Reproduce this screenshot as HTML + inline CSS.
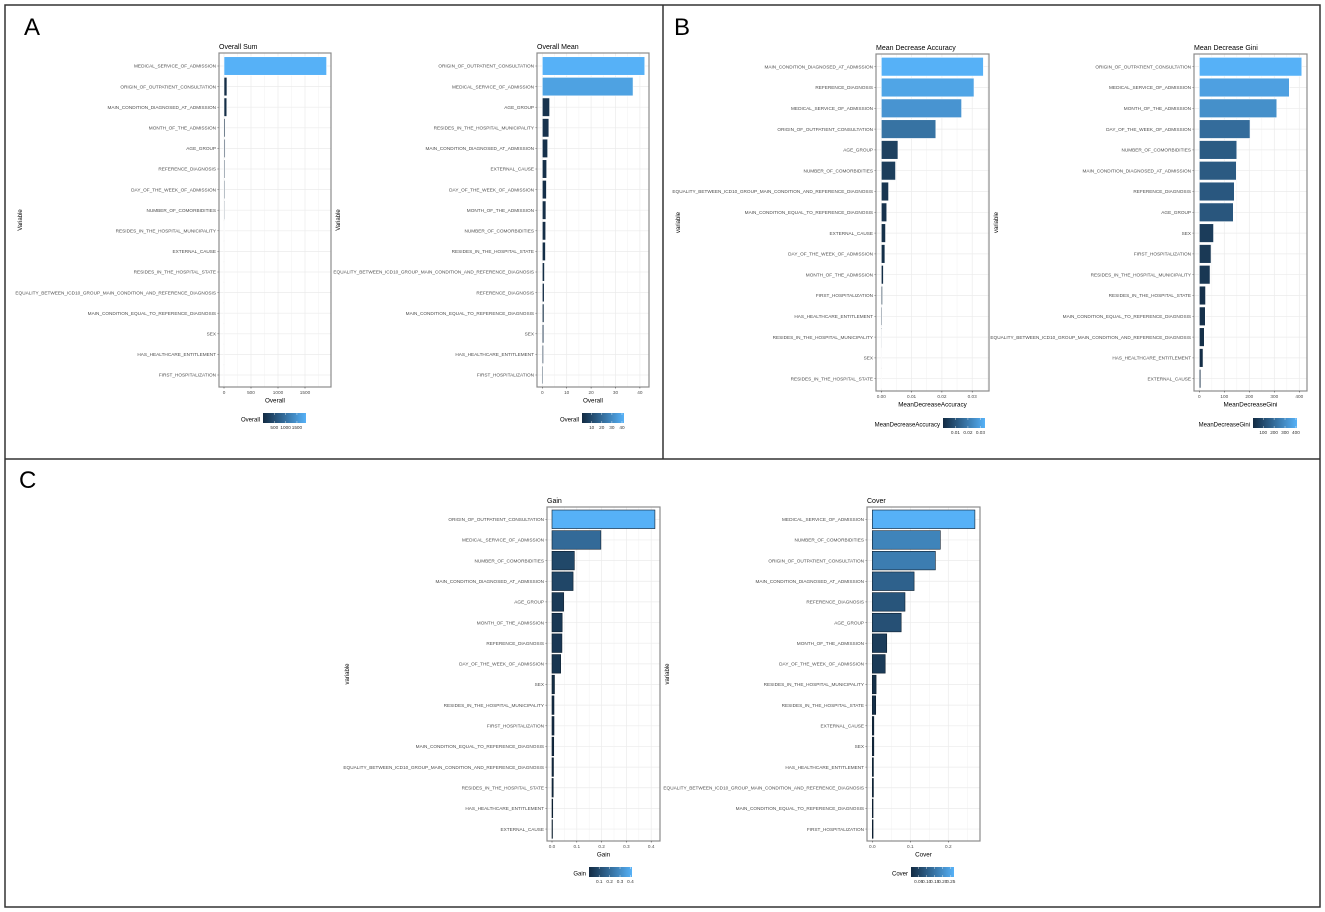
<!DOCTYPE html>
<html><head><meta charset="utf-8">
<style>
html,body{margin:0;padding:0;background:#fff;}
svg{display:block;font-family:"Liberation Sans",sans-serif;}
</style></head>
<body>
<svg id="fig" width="1325" height="912" viewBox="0 0 1325 912" xmlns="http://www.w3.org/2000/svg">
<rect x="0" y="0" width="1325" height="912" fill="#fff"/>
<rect x="5" y="5" width="1315" height="902" fill="none" stroke="#333" stroke-width="1.5"/>
<line x1="663" y1="5" x2="663" y2="459" stroke="#333" stroke-width="1.5"/>
<line x1="5" y1="459" x2="1320" y2="459" stroke="#333" stroke-width="1.5"/>
<text x="24" y="35" font-size="24" fill="#000">A</text>
<text x="674" y="35" font-size="24" fill="#000">B</text>
<text x="19" y="488" font-size="24" fill="#000">C</text>
</svg>
<script>
// ---- data ----
const sumCategories = ["MEDICAL_SERVICE_OF_ADMISSION","ORIGIN_OF_OUTPATIENT_CONSULTATION","MAIN_CONDITION_DIAGNOSED_AT_ADMISSION","MONTH_OF_THE_ADMISSION","AGE_GROUP","REFERENCE_DIAGNOSIS","DAY_OF_THE_WEEK_OF_ADMISSION","NUMBER_OF_COMORBIDITIES","RESIDES_IN_THE_HOSPITAL_MUNICIPALITY","EXTERNAL_CAUSE","RESIDES_IN_THE_HOSPITAL_STATE","EQUALITY_BETWEEN_ICD10_GROUP_MAIN_CONDITION_AND_REFERENCE_DIAGNOSIS","MAIN_CONDITION_EQUAL_TO_REFERENCE_DIAGNOSIS","SEX","HAS_HEALTHCARE_ENTITLEMENT","FIRST_HOSPITALIZATION"];
const sumValues = [1900,55,52,22,20,18,17,13,11,2,2,1.5,1.2,1,0.8,0.5];
const sumTicks = [0,500,1000,1500];
const sumTickLabels = ["0","500","1000","1500"];
const sumLegendTicks = [500,1000,1500];

const meanCategories = ["ORIGIN_OF_OUTPATIENT_CONSULTATION","MEDICAL_SERVICE_OF_ADMISSION","AGE_GROUP","RESIDES_IN_THE_HOSPITAL_MUNICIPALITY","MAIN_CONDITION_DIAGNOSED_AT_ADMISSION","EXTERNAL_CAUSE","DAY_OF_THE_WEEK_OF_ADMISSION","MONTH_OF_THE_ADMISSION","NUMBER_OF_COMORBIDITIES","RESIDES_IN_THE_HOSPITAL_STATE","EQUALITY_BETWEEN_ICD10_GROUP_MAIN_CONDITION_AND_REFERENCE_DIAGNOSIS","REFERENCE_DIAGNOSIS","MAIN_CONDITION_EQUAL_TO_REFERENCE_DIAGNOSIS","SEX","HAS_HEALTHCARE_ENTITLEMENT","FIRST_HOSPITALIZATION"];
const meanValues = [42,37.2,3,2.7,2.2,1.8,1.7,1.5,1.4,1.3,0.9,0.8,0.7,0.6,0.5,0.4];
const meanTicks = [0,10,20,30,40];
const meanTickLabels = ["0","10","20","30","40"];
const meanLegendTicks = [10,20,30,40];

const mdaCategories = ["MAIN_CONDITION_DIAGNOSED_AT_ADMISSION","REFERENCE_DIAGNOSIS","MEDICAL_SERVICE_OF_ADMISSION","ORIGIN_OF_OUTPATIENT_CONSULTATION","AGE_GROUP","NUMBER_OF_COMORBIDITIES","EQUALITY_BETWEEN_ICD10_GROUP_MAIN_CONDITION_AND_REFERENCE_DIAGNOSIS","MAIN_CONDITION_EQUAL_TO_REFERENCE_DIAGNOSIS","EXTERNAL_CAUSE","DAY_OF_THE_WEEK_OF_ADMISSION","MONTH_OF_THE_ADMISSION","FIRST_HOSPITALIZATION","HAS_HEALTHCARE_ENTITLEMENT","RESIDES_IN_THE_HOSPITAL_MUNICIPALITY","SEX","RESIDES_IN_THE_HOSPITAL_STATE"];
const mdaValues = [0.0337,0.0306,0.0265,0.018,0.0055,0.0047,0.0024,0.0018,0.0014,0.0012,0.0007,0.0004,0.0003,0.0002,0.0001,0.0];
const mdaTicks = [0,0.01,0.02,0.03];
const mdaTickLabels = ["0.00","0.01","0.02","0.03"];
const mdaLegendTicks = [0.01,0.02,0.03];
const mdaLegendLabels = ["0.01","0.02","0.03"];

const giniCategories = ["ORIGIN_OF_OUTPATIENT_CONSULTATION","MEDICAL_SERVICE_OF_ADMISSION","MONTH_OF_THE_ADMISSION","DAY_OF_THE_WEEK_OF_ADMISSION","NUMBER_OF_COMORBIDITIES","MAIN_CONDITION_DIAGNOSED_AT_ADMISSION","REFERENCE_DIAGNOSIS","AGE_GROUP","SEX","FIRST_HOSPITALIZATION","RESIDES_IN_THE_HOSPITAL_MUNICIPALITY","RESIDES_IN_THE_HOSPITAL_STATE","MAIN_CONDITION_EQUAL_TO_REFERENCE_DIAGNOSIS","EQUALITY_BETWEEN_ICD10_GROUP_MAIN_CONDITION_AND_REFERENCE_DIAGNOSIS","HAS_HEALTHCARE_ENTITLEMENT","EXTERNAL_CAUSE"];
const giniValues = [410,360,310,203,150,148,140,136,57,47,43,25,24,20,15,6];
const giniTicks = [0,100,200,300,400];
const giniTickLabels = ["0","100","200","300","400"];
const giniLegendTicks = [100,200,300,400];

const gainCategories = ["ORIGIN_OF_OUTPATIENT_CONSULTATION","MEDICAL_SERVICE_OF_ADMISSION","NUMBER_OF_COMORBIDITIES","MAIN_CONDITION_DIAGNOSED_AT_ADMISSION","AGE_GROUP","MONTH_OF_THE_ADMISSION","REFERENCE_DIAGNOSIS","DAY_OF_THE_WEEK_OF_ADMISSION","SEX","RESIDES_IN_THE_HOSPITAL_MUNICIPALITY","FIRST_HOSPITALIZATION","MAIN_CONDITION_EQUAL_TO_REFERENCE_DIAGNOSIS","EQUALITY_BETWEEN_ICD10_GROUP_MAIN_CONDITION_AND_REFERENCE_DIAGNOSIS","RESIDES_IN_THE_HOSPITAL_STATE","HAS_HEALTHCARE_ENTITLEMENT","EXTERNAL_CAUSE"];
const gainValues = [0.415,0.197,0.09,0.085,0.047,0.041,0.04,0.035,0.01,0.008,0.008,0.007,0.006,0.005,0.003,0.002];
const gainTicks = [0,0.1,0.2,0.3,0.4];
const gainTickLabels = ["0.0","0.1","0.2","0.3","0.4"];
const gainLegendTicks = [0.1,0.2,0.3,0.4];
const gainLegendLabels = ["0.1","0.2","0.3","0.4"];

const coverCategories = ["MEDICAL_SERVICE_OF_ADMISSION","NUMBER_OF_COMORBIDITIES","ORIGIN_OF_OUTPATIENT_CONSULTATION","MAIN_CONDITION_DIAGNOSED_AT_ADMISSION","REFERENCE_DIAGNOSIS","AGE_GROUP","MONTH_OF_THE_ADMISSION","DAY_OF_THE_WEEK_OF_ADMISSION","RESIDES_IN_THE_HOSPITAL_MUNICIPALITY","RESIDES_IN_THE_HOSPITAL_STATE","EXTERNAL_CAUSE","SEX","HAS_HEALTHCARE_ENTITLEMENT","EQUALITY_BETWEEN_ICD10_GROUP_MAIN_CONDITION_AND_REFERENCE_DIAGNOSIS","MAIN_CONDITION_EQUAL_TO_REFERENCE_DIAGNOSIS","FIRST_HOSPITALIZATION"];
const coverValues = [0.27,0.179,0.166,0.11,0.086,0.076,0.038,0.034,0.01,0.009,0.004,0.004,0.003,0.003,0.002,0.002];
const coverTicks = [0,0.1,0.2];
const coverTickLabels = ["0.0","0.1","0.2"];
const coverLegendTicks = [0.05,0.1,0.15,0.2,0.25];
const coverLegendLabels = ["0.05","0.10","0.15","0.20","0.25"];

// ---- layout (geometry only) ----
const NS = "http://www.w3.org/2000/svg";
const svg = document.getElementById('fig');
function mk(tag, attrs, parent){
  const e = document.createElementNS(NS, tag);
  for (const k in attrs) e.setAttribute(k, attrs[k]);
  (parent||svg).appendChild(e);
  return e;
}
function lerpColor(t){
  const a=[0x13,0x2B,0x43], b=[0x56,0xB1,0xF7];
  const c=a.map((v,i)=>Math.round(v+(b[i]-v)*t));
  return `rgb(${c[0]},${c[1]},${c[2]})`;
}
function drawChart(o){
  const g = mk('g', {});
  
  
  const xs = v => o.x0 + v * o.pxPer;
  const n = o.cats.length;
  const ys = i => o.row0 + i * o.step;
  const vmin = Math.min(...o.vals), vmax = Math.max(...o.vals);
  const bw = o.step * 0.9;
  const bg = mk('rect', {x:o.px1, y:o.py1, width:o.px2-o.px1, height:o.py2-o.py1, fill:'#fff'}, g);
  
  
  for (let k=0;k<o.ticks.length;k++){
    const mid = o.ticks[k] + (o.ticks[1]-o.ticks[0])/2;
    const xm = xs(mid);
    if (xm < o.px2) mk('line',{x1:xm,y1:o.py1,x2:xm,y2:o.py2,stroke:'#f2f2f2','stroke-width':0.5},g);
  }
  o.ticks.forEach(t=>{
    const x = xs(t);
    mk('line',{x1:x,y1:o.py1,x2:x,y2:o.py2,stroke:'#ebebeb','stroke-width':0.7},g);
  });
  for (let i=0;i<n;i++){
    const y = ys(i);
    mk('line',{x1:o.px1,y1:y,x2:o.px2,y2:y,stroke:'#ebebeb','stroke-width':0.7},g);
  }
  for (let i=0;i<n;i++){
    const v = o.vals[i];
    const t = (v - vmin)/(vmax - vmin);
    const r = mk('rect',{x:xs(0), y:ys(i)-bw/2, width:Math.max(xs(v)-xs(0),0.01), height:bw, fill:lerpColor(t), stroke:o.barStroke, 'stroke-width':0.6},g);
    
    
    const lb = mk('text',{x:o.px1-3, y:ys(i)+1.7, 'font-size':4.7, fill:'#4d4d4d','text-anchor':'end'},g);
    lb.textContent = o.cats[i];
    
    
    mk('line',{x1:o.px1-1.5,y1:ys(i),x2:o.px1,y2:ys(i),stroke:'#333','stroke-width':0.5},g);
  }
  mk('rect',{x:o.px1, y:o.py1, width:o.px2-o.px1, height:o.py2-o.py1, fill:'none', stroke:'#8c8c8c','stroke-width':1.2},g);
  o.ticks.forEach((t,k)=>{
    const x = xs(t);
    mk('line',{x1:x,y1:o.py2,x2:x,y2:o.py2+1.5,stroke:'#333','stroke-width':0.5},g);
    const tl = mk('text',{x:x, y:o.py2+7, 'font-size':4.7, fill:'#4d4d4d','text-anchor':'middle'},g);
    tl.textContent = o.tickLabels[k];
    
    
  });
  const ti = mk('text',{x:o.px1, y:o.py1-4, 'font-size':7, fill:'#000'},g);
  ti.textContent = o.title;
  
  
  const xt = mk('text',{x:(o.px1+o.px2)/2, y:o.py2+15.5, 'font-size':6.3, fill:'#000','text-anchor':'middle'},g);
  xt.textContent = o.xTitle;
  
  
  const yc = (o.py1+o.py2)/2;
  const yt = mk('text',{x:o.yTitleX, y:yc, 'font-size':6, fill:'#000','text-anchor':'middle', transform:`rotate(-90 ${o.yTitleX} ${yc})`},g);
  yt.textContent = o.yTitle;
  
  
  const lg = mk('g',{},g);
  
  
  const gid = 'grad-' + o.id;
  const defs = mk('defs',{},lg);
  const grad = mk('linearGradient',{id:gid,x1:0,y1:0,x2:1,y2:0},defs);
  mk('stop',{offset:0,'stop-color':'#132B43'},grad);
  mk('stop',{offset:1,'stop-color':'#56B1F7'},grad);
  mk('rect',{x:o.lg1, y:o.lgy, width:o.lg2-o.lg1, height:10, fill:`url(#${gid})`},lg);
  const ls = v => o.lg1 + (v - vmin)/(vmax - vmin)*(o.lg2-o.lg1);
  o.legTicks.forEach((t,k)=>{
    const x = ls(t);
    mk('line',{x1:x,y1:o.lgy,x2:x,y2:o.lgy+2,stroke:'#fff','stroke-width':0.4},lg);
    mk('line',{x1:x,y1:o.lgy+8,x2:x,y2:o.lgy+10,stroke:'#fff','stroke-width':0.4},lg);
    const tl = mk('text',{x:x, y:o.lgy+16, 'font-size':4.7, fill:'#333','text-anchor':'middle'},lg);
    tl.textContent = o.legLabels[k];
    
    
  });
  const lt = mk('text',{x:o.lg1-3, y:o.lgy+8.5, 'font-size':6, fill:'#000','text-anchor':'end'},lg);
  lt.textContent = o.xTitle;
  
  
}

drawChart({id:'overall-sum', title:'Overall Sum', xTitle:'Overall', yTitle:'Variable', cats:sumCategories, vals:sumValues, ticks:sumTicks, tickLabels:sumTickLabels, legTicks:sumLegendTicks, legLabels:sumLegendTicks.map(String),
  px1:219, px2:331, py1:53, py2:387, x0:224, pxPer:27/500, row0:66, step:20.6, yTitleX:22, lg1:263, lg2:306, lgy:413, barStroke:'#fff'});
drawChart({id:'overall-mean', title:'Overall Mean', xTitle:'Overall', yTitle:'Variable', cats:meanCategories, vals:meanValues, ticks:meanTicks, tickLabels:meanTickLabels, legTicks:meanLegendTicks, legLabels:meanLegendTicks.map(String),
  px1:537, px2:649, py1:53, py2:387, x0:542.3, pxPer:2.44, row0:66, step:20.6, yTitleX:340, lg1:582, lg2:624, lgy:413, barStroke:'#fff'});
drawChart({id:'mean-decrease-accuracy', title:'Mean Decrease Accuracy', xTitle:'MeanDecreaseAccuracy', yTitle:'variable', cats:mdaCategories, vals:mdaValues, ticks:mdaTicks, tickLabels:mdaTickLabels, legTicks:mdaLegendTicks, legLabels:mdaLegendLabels,
  px1:876, px2:989, py1:54, py2:391, x0:881.3, pxPer:3030, row0:66.7, step:20.8, yTitleX:680, lg1:943, lg2:985, lgy:418, barStroke:'#fff'});
drawChart({id:'mean-decrease-gini', title:'Mean Decrease Gini', xTitle:'MeanDecreaseGini', yTitle:'variable', cats:giniCategories, vals:giniValues, ticks:giniTicks, tickLabels:giniTickLabels, legTicks:giniLegendTicks, legLabels:giniLegendTicks.map(String),
  px1:1194, px2:1307, py1:54, py2:391, x0:1199.3, pxPer:0.25, row0:66.7, step:20.8, yTitleX:998, lg1:1253, lg2:1297, lgy:418, barStroke:'#fff'});
drawChart({id:'gain', title:'Gain', xTitle:'Gain', yTitle:'variable', cats:gainCategories, vals:gainValues, ticks:gainTicks, tickLabels:gainTickLabels, legTicks:gainLegendTicks, legLabels:gainLegendLabels,
  px1:547, px2:660, py1:507, py2:841, x0:552, pxPer:248, row0:519.3, step:20.65, yTitleX:349, lg1:589, lg2:632, lgy:867, barStroke:'#0d1e2e'});
drawChart({id:'cover', title:'Cover', xTitle:'Cover', yTitle:'variable', cats:coverCategories, vals:coverValues, ticks:coverTicks, tickLabels:coverTickLabels, legTicks:coverLegendTicks, legLabels:coverLegendLabels,
  px1:867, px2:980, py1:507, py2:841, x0:872.3, pxPer:380, row0:519.3, step:20.65, yTitleX:669, lg1:911, lg2:954, lgy:867, barStroke:'#0d1e2e'});
</script>
</body></html>
